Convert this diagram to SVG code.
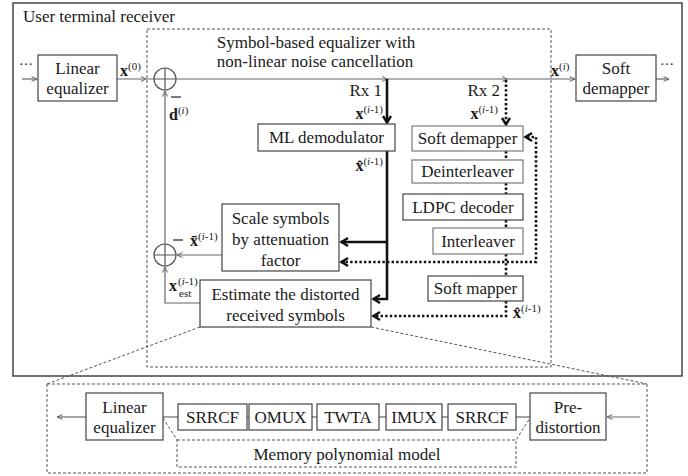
<svg xmlns="http://www.w3.org/2000/svg" width="688" height="476" viewBox="0 0 688 476">
  <style>
    text { font-family: "Liberation Serif", "Times New Roman", serif; fill: #1a1a1a; }
    .t { font-size: 17px; }
    .c { text-anchor: middle; }
    .r { text-anchor: end; }
    .box { fill: #fff; stroke: #444; stroke-width: 1.2; }
    .gbox { fill: #fff; stroke: #7a7a7a; stroke-width: 1.2; }
    .thin { fill: none; stroke: #666; stroke-width: 1.2; }
    .thick { fill: none; stroke: #111; stroke-width: 2.6; }
    .dot { fill: none; stroke: #111; stroke-width: 2.6; stroke-dasharray: 2.4 2.2; }
    .dash { fill: none; stroke: #555; stroke-width: 1; stroke-dasharray: 3 2; }
    .chev { fill: none; stroke: #666; stroke-width: 1; }
    .b { font-weight: bold; font-size: 16px; }
    .s { font-size: 11px; }
    .i { font-style: italic; }
  </style>
  <defs>
    <marker id="ah" viewBox="0 0 8 8" refX="7" refY="4" markerWidth="8" markerHeight="8" markerUnits="userSpaceOnUse" orient="auto">
      <path d="M1.5,1.5 L7,4 L1.5,6.5" fill="none" stroke="#666" stroke-width="1"/>
    </marker>
    <marker id="ahk" viewBox="0 0 12 12" refX="10" refY="6" markerWidth="12" markerHeight="12" markerUnits="userSpaceOnUse" orient="auto">
      <path d="M3,2 L9.5,6 L3,10" fill="none" stroke="#111" stroke-width="2.4"/>
    </marker>
  </defs>

  <!-- enclosing receiver frame -->
  <g id="receiver">
    <rect x="13" y="3" width="669" height="373" fill="none" stroke="#444" stroke-width="1.5"/>
    <text class="t" x="23" y="22">User terminal receiver</text>
  </g>

  <!-- equalizer region -->
  <g id="equalizer-region">
    <rect x="147" y="29" width="404" height="338" class="dash"/>
    <text class="t c" x="316" y="48">Symbol-based equalizer with</text>
    <text class="t c" x="315" y="67">non-linear noise cancellation</text>
  </g>

  <!-- connectors -->
  <g id="connectors">
    <!-- input side -->
    <line x1="22" y1="79" x2="37" y2="79" class="thin" marker-end="url(#ah)"/>
    <line x1="117" y1="79" x2="154" y2="79" class="thin"/>
    <path d="M141,76.5 L146,79 L141,81.5" class="chev"/>
    <!-- main bus -->
    <line x1="176" y1="79" x2="575" y2="79" class="thin" marker-end="url(#ah)"/>
    <path d="M382,76.5 L387,79 L382,81.5" class="chev"/>
    <path d="M502,76.5 L507,79 L502,81.5" class="chev"/>
    <!-- output side -->
    <line x1="656" y1="79" x2="669" y2="79" class="thin" marker-end="url(#ah)"/>

    <!-- Rx 1 branch -->
    <line x1="387" y1="79" x2="387" y2="123" class="thick" marker-end="url(#ahk)"/>
    <polyline points="387,151 387,299 373,299" class="thick" marker-end="url(#ahk)"/>
    <line x1="387" y1="242" x2="341" y2="242" class="thick" marker-end="url(#ahk)"/>

    <!-- Rx 2 branch -->
    <line x1="506" y1="80" x2="506" y2="125" class="dot" marker-end="url(#ahk)"/>
    <line x1="506" y1="151" x2="506" y2="160" class="dot"/>
    <line x1="506" y1="183" x2="506" y2="194" class="dot"/>
    <line x1="506" y1="220" x2="506" y2="228" class="dot"/>
    <line x1="506" y1="254" x2="506" y2="276" class="dot"/>
    <polyline points="506,301 506,316 373,316" class="dot" marker-end="url(#ahk)"/>
    <polyline points="341,262 536,262 536,137 525,137" class="dot" marker-end="url(#ahk)"/>
    <line x1="345" y1="262" x2="341" y2="262" class="dot" marker-end="url(#ahk)"/>

    <!-- cancellation feedback -->
    <line x1="165" y1="244" x2="165" y2="91" class="thin" marker-end="url(#ah)"/>
    <line x1="222" y1="255" x2="177" y2="255" class="thin" marker-end="url(#ah)"/>
    <polyline points="200,303 165,303 165,267" class="thin" marker-end="url(#ah)"/>

    <!-- zoom-out of the distortion estimator -->
    <line x1="200" y1="327" x2="47" y2="384" class="dash"/>
    <line x1="371" y1="327" x2="647" y2="384" class="dash"/>

    <!-- memory polynomial chain -->
    <line x1="86" y1="417" x2="57" y2="417" class="thin" marker-end="url(#ah)"/>
    <line x1="163" y1="417" x2="178" y2="417" class="thin"/>
    <line x1="247" y1="417" x2="249" y2="417" class="thin"/>
    <line x1="312" y1="417" x2="317" y2="417" class="thin"/>
    <line x1="379" y1="417" x2="386" y2="417" class="thin"/>
    <line x1="442" y1="417" x2="448" y2="417" class="thin"/>
    <line x1="516" y1="417" x2="530" y2="417" class="thin"/>
    <line x1="640" y1="417" x2="607" y2="417" class="thin" marker-end="url(#ah)"/>
  </g>

  <!-- signal labels -->
  <g id="labels">
    <text x="120" y="76"><tspan class="b">x</tspan><tspan class="s" dy="-6">(0)</tspan></text>
    <text x="551" y="76"><tspan class="b">x</tspan><tspan class="s" dy="-6">(</tspan><tspan class="s i">i</tspan><tspan class="s">)</tspan></text>
    <text class="t r" x="382" y="96">Rx 1</text>
    <text class="r" x="383" y="119"><tspan class="b">x</tspan><tspan class="s" dy="-6">(</tspan><tspan class="s i">i</tspan><tspan class="s">-1)</tspan></text>
    <text class="r" x="383" y="171"><tspan class="b">x̂</tspan><tspan class="s" dy="-6">(</tspan><tspan class="s i">i</tspan><tspan class="s">-1)</tspan></text>
    <text class="t r" x="500" y="96">Rx 2</text>
    <text class="r" x="498" y="119"><tspan class="b">x</tspan><tspan class="s" dy="-6">(</tspan><tspan class="s i">i</tspan><tspan class="s">-1)</tspan></text>
    <text x="513" y="318"><tspan class="b">x̂</tspan><tspan class="s" dy="-6">(</tspan><tspan class="s i">i</tspan><tspan class="s">-1)</tspan></text>
    <line x1="171" y1="97" x2="181" y2="97" stroke="#222" stroke-width="1.2"/>
    <text x="169" y="120"><tspan class="b">d</tspan><tspan class="s" dy="-6">(</tspan><tspan class="s i">i</tspan><tspan class="s">)</tspan></text>
    <line x1="173" y1="240" x2="183" y2="240" stroke="#222" stroke-width="1.2"/>
    <text x="190" y="246"><tspan class="b">x̄</tspan><tspan class="s" dy="-6">(</tspan><tspan class="s i">i</tspan><tspan class="s">-1)</tspan></text>
    <text class="b" x="169" y="291">x</text>
    <text class="s" x="178" y="285">(<tspan class="i">i</tspan>-1)</text>
    <text class="s" x="179" y="297">est</text>
  </g>

  <!-- summing junctions -->
  <g id="sum-top">
    <circle cx="165" cy="79" r="11" fill="none" stroke="#555" stroke-width="1.2"/>
    <path d="M154,79 H176 M165,68 V90" stroke="#555" stroke-width="1.2"/>
  </g>
  <g id="sum-bottom">
    <circle cx="165" cy="255" r="11" fill="none" stroke="#555" stroke-width="1.2"/>
    <path d="M154,255 H176 M165,244 V266" stroke="#555" stroke-width="1.2"/>
  </g>

  <!-- processing blocks -->
  <g id="linear-equalizer">
    <rect x="38" y="55" width="79" height="46" class="box"/>
    <text class="t c" x="77.5" y="74">Linear</text>
    <text class="t c" x="77.5" y="94">equalizer</text>
  </g>
  <g id="soft-demapper-out">
    <rect x="576" y="55" width="80" height="46" class="box"/>
    <text class="t c" x="616" y="74">Soft</text>
    <text class="t c" x="616" y="94">demapper</text>
  </g>
  <g id="ml-demodulator">
    <rect x="258" y="124" width="137" height="27" class="box"/>
    <text class="t c" x="326.5" y="143">ML demodulator</text>
  </g>
  <g id="soft-demapper">
    <rect x="412" y="126" width="111" height="25" class="gbox"/>
    <text class="t c" x="467.5" y="144">Soft demapper</text>
  </g>
  <g id="deinterleaver">
    <rect x="412" y="160" width="111" height="23" class="gbox"/>
    <text class="t c" x="467.5" y="177">Deinterleaver</text>
  </g>
  <g id="ldpc-decoder">
    <rect x="403" y="194" width="120" height="26" class="box"/>
    <text class="t c" x="463" y="213">LDPC decoder</text>
  </g>
  <g id="interleaver">
    <rect x="433" y="228" width="90" height="26" class="gbox"/>
    <text class="t c" x="478" y="247">Interleaver</text>
  </g>
  <g id="soft-mapper">
    <rect x="428" y="276" width="95" height="25" class="box"/>
    <text class="t c" x="475.5" y="294">Soft mapper</text>
  </g>
  <g id="scale-symbols">
    <rect x="222" y="204" width="117" height="67" class="box"/>
    <text class="t c" x="280.5" y="224">Scale symbols</text>
    <text class="t c" x="280.5" y="245">by attenuation</text>
    <text class="t c" x="280.5" y="266">factor</text>
  </g>
  <g id="estimate-distorted">
    <rect x="200" y="280" width="171" height="47" class="box"/>
    <text class="t c" x="285.5" y="300">Estimate the distorted</text>
    <text class="t c" x="285.5" y="321">received symbols</text>
  </g>

  <!-- distortion model detail -->
  <g id="model-frame">
    <rect x="47" y="384" width="600" height="89" class="dash"/>
  </g>
  <g id="memory-polynomial">
    <path d="M163,418 L177,440 L177,467 L516,467 L516,440 L530,418 M177,440 H516" class="dash"/>
    <text class="t c" x="347" y="460">Memory polynomial model</text>
  </g>
  <g id="model-linear-equalizer">
    <rect x="86" y="393" width="77" height="47" class="box"/>
    <text class="t c" x="124.5" y="413">Linear</text>
    <text class="t c" x="124.5" y="433">equalizer</text>
  </g>
  <g id="srrcf-rx">
    <rect x="178" y="404" width="69" height="26" class="box"/>
    <text class="t c" x="212.5" y="423">SRRCF</text>
  </g>
  <g id="omux">
    <rect x="249" y="404" width="63" height="26" class="box"/>
    <text class="t c" x="280.5" y="423">OMUX</text>
  </g>
  <g id="twta">
    <rect x="317" y="404" width="62" height="26" class="box"/>
    <text class="t c" x="348" y="423">TWTA</text>
  </g>
  <g id="imux">
    <rect x="386" y="404" width="56" height="26" class="box"/>
    <text class="t c" x="414" y="423">IMUX</text>
  </g>
  <g id="srrcf-tx">
    <rect x="448" y="404" width="68" height="26" class="box"/>
    <text class="t c" x="482" y="423">SRRCF</text>
  </g>
  <g id="predistortion">
    <rect x="530" y="393" width="76" height="47" class="box"/>
    <text class="t c" x="568" y="413">Pre-</text>
    <text class="t c" x="568" y="433">distortion</text>
  </g>

  <!-- continuation dots -->
  <g id="ellipses">
    <text x="19" y="65" font-size="14">…</text>
    <text x="660" y="65" font-size="14">…</text>
  </g>
</svg>
